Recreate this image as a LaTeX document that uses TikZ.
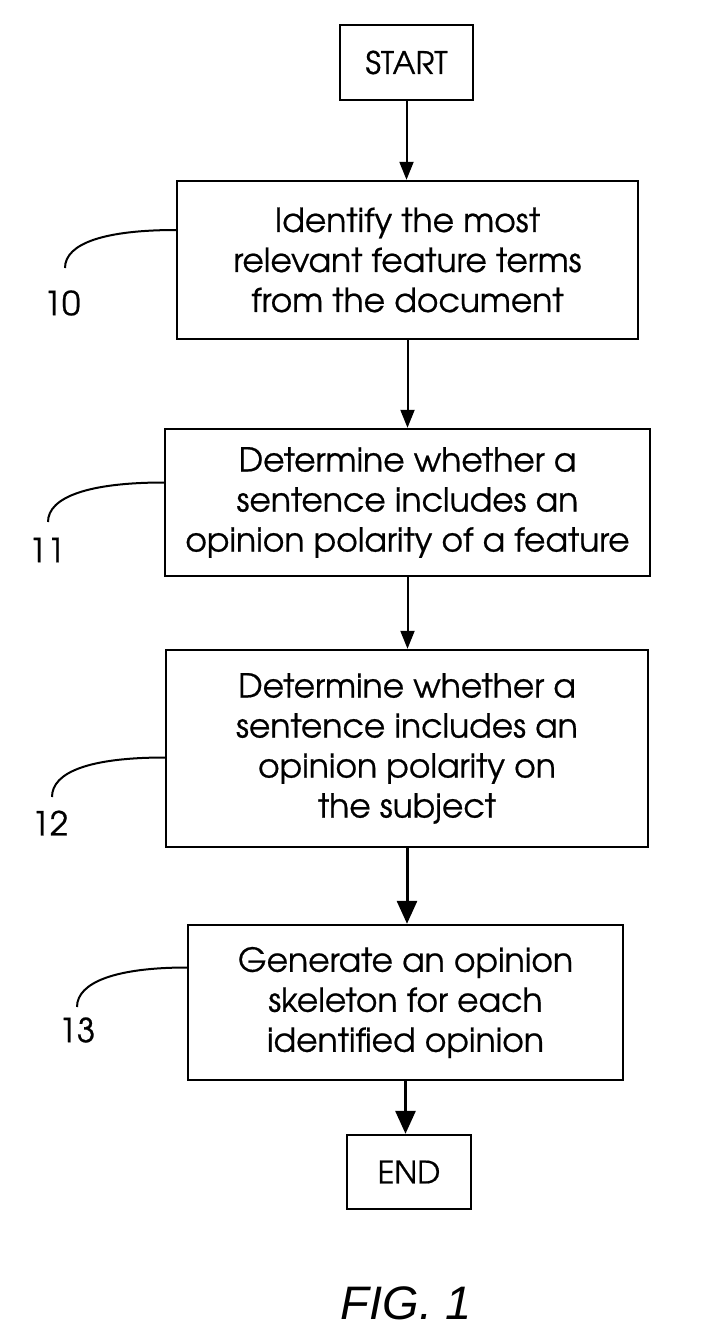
\documentclass[tikz,border=0pt]{standalone}
\usepackage{fontspec}
\setmainfont[FakeBold=0.6]{texgyreadventor-regular.otf}
\newfontfamily\figfont{Liberation Sans}
\usetikzlibrary{arrows.meta}
\tikzset{
  stepbox/.style={draw, line width=2.4pt, inner sep=0pt, align=center,
    font=\fontsize{33}{40}\selectfont},
  termbox/.style={draw, line width=2.4pt, inner sep=0pt,
    font=\fontsize{31}{40}\selectfont},
  flow/.style={line width=2pt, -{Triangle[length=18pt,width=14pt]}},
  flowbold/.style={line width=3pt, -{Triangle[length=23pt,width=20pt]}},
  leader/.style={line width=2pt},
  reflabel/.style={font=\fontsize{33}{36}\selectfont, inner sep=0pt}
}
\begin{document}
\begin{tikzpicture}[x=1pt,y=-1pt]
\useasboundingbox (0,0) rectangle (703,1334);
\fill[white] (0,0) rectangle (703,1334);

\node[termbox, minimum width=133pt, minimum height=75pt] (start) at (406.5,62.5) {START};
\node[stepbox, minimum width=461pt, minimum height=158pt] (b1) at (407.5,260)
  {Identify the most\\relevant feature terms\\from the document};
\node[stepbox, minimum width=485pt, minimum height=147pt] (b2) at (407.5,502.5)
  {Determine whether a\\sentence includes an\\opinion polarity of a feature};
\node[stepbox, minimum width=482pt, minimum height=197pt] (b3) at (407,748.5)
  {Determine whether a\\sentence includes an\\opinion polarity on\\the subject};
\node[stepbox, minimum width=435pt, minimum height=155pt] (b4) at (405.5,1002.5)
  {Generate an opinion\\skeleton for each\\identified opinion};
\node[termbox, minimum width=124pt, minimum height=74pt] (end) at (409,1172) {END};

\draw[flow] (start.south) -- (start.south |- b1.north);
\draw[flow] (b1.south) -- (b1.south |- b2.north);
\draw[flow] (b2.south) -- (b2.south |- b3.north);
\draw[flowbold] (b3.south) -- (b3.south |- b4.north);
\draw[flowbold] (b4.south) -- (b4.south |- end.north);

\node[reflabel] (l10) at (62,303) {10};
\node[reflabel] (l11) at (47,550) {11};
\node[reflabel] (l12) at (50,823) {12};
\node[reflabel] (l13) at (77,1030) {13};

\coordinate (t10) at (65,268);
\coordinate (t11) at (48,522);
\coordinate (t12) at (52,797);
\coordinate (t13) at (77,1007);

\draw[leader] ([yshift=30pt]b1.west) .. controls +(-70,0) and +(0,-25) .. (t10);
\draw[leader] ([yshift=20pt]b2.west) .. controls +(-75,0) and +(0,-25) .. (t11);
\draw[leader] ([yshift=-9pt]b3.west) .. controls +(-75,0) and +(0,-25) .. (t12);
\draw[leader] ([yshift=35pt]b4.west) .. controls +(-70,0) and +(0,-25) .. (t13);

\node[font=\figfont\itshape\fontsize{47}{52}\selectfont, inner sep=0pt] (fig) at (406,1303) {FIG. 1};
\end{tikzpicture}
\end{document}
